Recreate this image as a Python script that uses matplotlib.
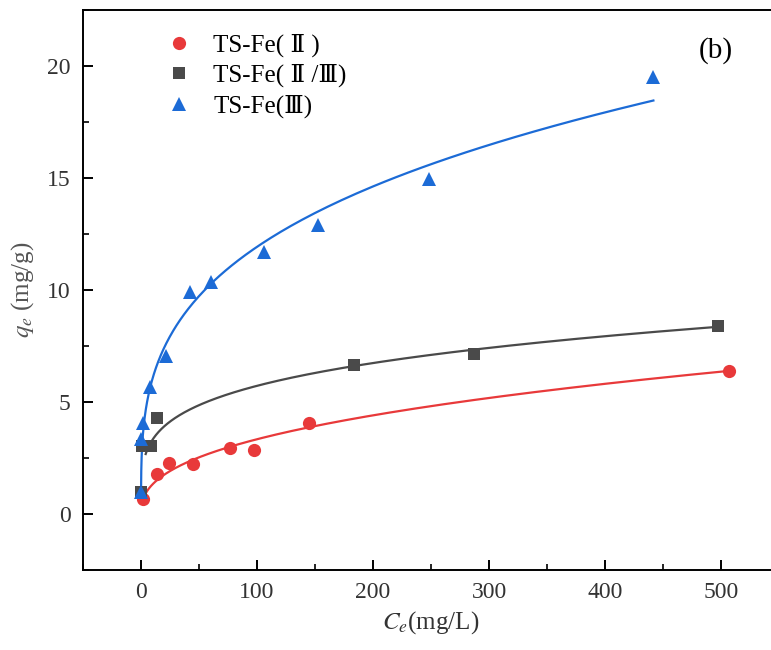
import numpy as np
import matplotlib
matplotlib.use("Agg")
import matplotlib.pyplot as plt
from matplotlib.ticker import MultipleLocator

# ---- data ----
fe2_C = [2.0, 13.5, 24.1, 44.5, 76.7, 97.4, 144.8, 507.0]
fe2_q = [0.67, 1.77, 2.29, 2.22, 2.95, 2.86, 4.05, 6.40]

fe23_C = [0.0, 0.5, 8.3, 14.0, 183.6, 287.0, 497.0]
fe23_q = [1.00, 3.04, 3.04, 4.30, 6.64, 7.14, 8.38]

fe3_C = [0.0, 0.3, 2.0, 7.8, 21.3, 42.2, 60.0, 106.0, 152.9, 248.6, 441.7]
fe3_q = [1.00, 3.33, 4.05, 5.66, 7.05, 9.92, 10.37, 11.70, 12.90, 14.94, 19.52]

# Freundlich fit parameters (K, 1/n) and fitted ranges
fit_fe2 = (0.529, 0.40, 2.0, 507.0)
fit_fe23 = (1.93, 0.236, 4.0, 497.0)
fit_fe3 = (3.08, 0.294, 0.03, 441.7)

labels = ["TS-Fe( Ⅱ )", "TS-Fe( Ⅱ /Ⅲ)", "TS-Fe(Ⅲ)"]
colors = ["#E8393A", "#4A4A4A", "#1C6BD6"]
markers = ["o", "s", "^"]
msizes = [9.5, 8, 10.5]

plt.rcParams['font.family'] = ['Liberation Serif', 'DejaVu Serif', 'Noto Sans CJK SC']
plt.rcParams['mathtext.fontset'] = 'stix'

fig = plt.figure(figsize=(7.71, 6.50), dpi=100)
ax = fig.add_axes([0.1077, 0.1231, 0.9027, 0.8615])

series = [(fe2_C, fe2_q, fit_fe2), (fe23_C, fe23_q, fit_fe23), (fe3_C, fe3_q, fit_fe3)]
for (C, q, fit), lab, col, mk, ms in zip(series, labels, colors, markers, msizes):
    K, n, c0, c1 = fit
    cc = np.geomspace(c0, c1, 400)
    ax.plot(cc, K * cc ** n, color=col, lw=1.6, zorder=2)
    ax.plot(C, q, linestyle='none', marker=mk, ms=ms, color=col,
            markeredgewidth=0, label=lab, zorder=3)

ax.set_xlim(-50, 550)
ax.set_ylim(-2.5, 22.5)
ax.xaxis.set_major_locator(MultipleLocator(100))
ax.xaxis.set_minor_locator(MultipleLocator(50))
ax.yaxis.set_major_locator(MultipleLocator(5))
ax.yaxis.set_minor_locator(MultipleLocator(2.5))
ax.tick_params(which='major', direction='in', length=7, width=1.4, labelsize=17,
               labelcolor='#333333', pad=9)
ax.tick_params(which='minor', direction='in', length=4, width=1.2)
for sp in ax.spines.values():
    sp.set_linewidth(1.4)

ax.set_xlabel(r'$C_e$(mg/L)', fontsize=18, color='#333333', labelpad=4)
ax.set_ylabel(r'$q_e$ (mg/g)', fontsize=18, color='#555555', labelpad=8)

ax.legend(loc='upper left', bbox_to_anchor=(0.08, 0.985), frameon=False,
          fontsize=18, handletextpad=0.38, labelspacing=0.28, borderaxespad=0.2)
ax.text(0.885, 0.927, '(b)', transform=ax.transAxes, fontsize=21, ha='left', va='center')

fig.savefig('out.png', dpi=100)
